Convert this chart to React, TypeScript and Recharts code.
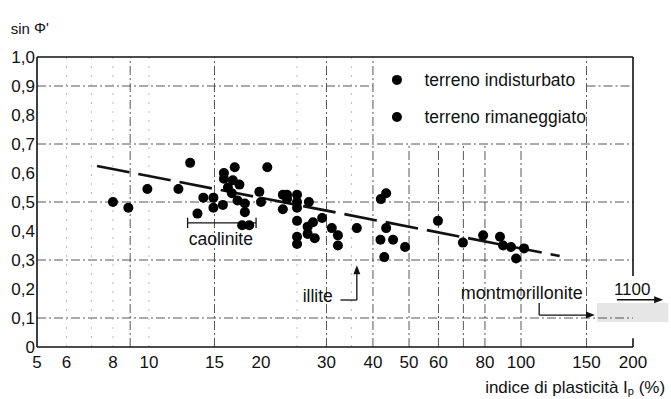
import {
  ScatterChart,
  Scatter,
  XAxis,
  YAxis,
  ReferenceLine,
  ReferenceDot,
  ReferenceArea,
} from 'recharts';

const FONT = '"Liberation Sans", Arial, Helvetica, sans-serif';
const INK = '#111';

// indice di plasticità Ip (%)
const ip = [
  8.0, 8.8, 9.9, 12.0, 12.9, 13.5, 14.0, 14.9, 14.9, 15.8,
  15.9, 15.9, 16.3, 16.7, 16.8, 17.0, 17.3, 17.5, 18.1, 18.1,
  17.8, 18.6, 19.8, 20.0, 20.8, 22.9, 23.5, 25.0, 23.5, 22.9,
  25.0, 25.0, 26.9, 25.0, 25.0, 25.0, 26.7, 27.6, 29.2, 26.7,
  27.9, 31.0, 32.2, 32.2, 36.2, 42.0, 43.4, 43.4, 41.9, 45.3,
  48.8, 42.9, 59.8, 69.8, 79.1, 87.8, 89.5, 94.0, 97.0, 101.9,
];

// sin phi'
const sinPhi = [
  0.5, 0.48, 0.545, 0.545, 0.635, 0.46, 0.515, 0.515, 0.48, 0.49,
  0.6, 0.58, 0.55, 0.53, 0.575, 0.62, 0.505, 0.56, 0.495, 0.465,
  0.42, 0.42, 0.535, 0.5, 0.62, 0.525, 0.525, 0.525, 0.51, 0.475,
  0.5, 0.48, 0.5, 0.435, 0.38, 0.355, 0.415, 0.43, 0.445, 0.39,
  0.375, 0.41, 0.385, 0.35, 0.41, 0.51, 0.53, 0.41, 0.37, 0.37,
  0.345, 0.31, 0.435, 0.36, 0.385, 0.38, 0.35, 0.345, 0.305, 0.34,
];

// dashed trend line end points
const trendIp = [7.25, 127];
const trendSin = [0.624, 0.314];

const xTicks = [5, 6, 8, 10, 15, 20, 30, 40, 50, 60, 80, 100, 150, 200];
const yTicks = [0, 0.1, 0.2, 0.3, 0.4, 0.5, 0.6, 0.7, 0.8, 0.9, 1.0];

const gridRows = [0.1, 0.3, 0.5, 0.7];
const gridColsFull = [8.9, 15, 30, 40, 150];
const gridColsLow = [50, 60, 70, 80, 100];
const gridColsFaint = [6, 7, 8, 10, 25, 35];

const points = ip.map((x, i) => ({ x, y: sinPhi[i] }));
const trend = trendIp.map((x, i) => ({ x, y: trendSin[i] }));

const majorGrid = { stroke: '#444', strokeWidth: 0.9, strokeDasharray: '9 3 2 3' };
const faintGrid = { stroke: '#aaa', strokeWidth: 0.8, strokeDasharray: '2 7' };

const fmtY = (v: number) => (v === 0 ? '0' : v.toFixed(1).replace('.', ','));

const textShape =
  (content: any, anchor: string, size = 17) =>
  (p: any) => (
    <text
      x={p.cx}
      y={p.cy}
      textAnchor={anchor}
      dominantBaseline="central"
      fontFamily={FONT}
      fontSize={size}
      fill={INK}
    >
      {content}
    </text>
  );

const arrowShape = (dir: 'up' | 'right') => (p: any) => {
  const { cx, cy } = p;
  const pts =
    dir === 'up'
      ? `${cx},${cy} ${cx - 3.5},${cy + 9} ${cx + 3.5},${cy + 9}`
      : `${cx},${cy} ${cx - 9},${cy - 3.5} ${cx - 9},${cy + 3.5}`;
  return <polygon points={pts} fill={INK} />;
};

const seg = (a: [number, number], b: [number, number], key: string, style: any = { stroke: INK, strokeWidth: 1.3 }) => (
  <ReferenceLine
    key={key}
    segment={[
      { x: a[0], y: a[1] },
      { x: b[0], y: b[1] },
    ]}
    {...style}
    ifOverflow="visible"
  />
);

const label = (key: string, x: number, y: number, content: any, anchor = 'middle', size = 17) => (
  <ReferenceDot
    key={key}
    x={x}
    y={y}
    r={1}
    ifOverflow="visible"
    shape={textShape(content, anchor, size)}
  />
);

const frame = { stroke: INK, strokeWidth: 1.6 };

export default function App() {
  return (
    <div style={{ position: 'absolute', left: 0, top: 0, width: 671, height: 399, background: '#fff' }}>
      <ScatterChart width={671} height={399} margin={{ top: 57, right: 38, bottom: 0, left: 0 }}>
        <XAxis
          type="number"
          dataKey="x"
          scale="log"
          domain={[5, 200]}
          ticks={xTicks}
          interval={0}
          allowDataOverflow
          axisLine={frame}
          tickLine={false}
          tickSize={6}
          tickMargin={3}
          height={52}
          tick={{ fill: INK, fontSize: 17, fontFamily: FONT }}
        />
        <YAxis
          type="number"
          dataKey="y"
          domain={[0, 1]}
          ticks={yTicks}
          interval={0}
          tickFormatter={fmtY}
          axisLine={frame}
          tickLine={false}
          tickSize={0}
          tickMargin={2}
          width={37}
          tick={{ fill: INK, fontSize: 17, fontFamily: FONT }}
        />

        {/* grid */}
        {gridRows.map((v) => (
          <ReferenceLine key={'r' + v} y={v} {...majorGrid} />
        ))}
        {seg([5, 0.9], [40, 0.9], 'r09a', majorGrid)}
        {seg([150, 0.9], [200, 0.9], 'r09b', majorGrid)}
        {gridColsFull.map((v) => (
          <ReferenceLine key={'c' + v} x={v} {...majorGrid} />
        ))}
        {gridColsLow.map((v) => seg([v, 0], [v, 0.7], 'l' + v, majorGrid))}
        {gridColsFaint.map((v) => (
          <ReferenceLine key={'f' + v} x={v} {...faintGrid} />
        ))}

        {/* frame */}
        <ReferenceLine y={1} {...frame} />
        {seg([200, 1], [200, 0.245], 'fr1', frame)}
        {seg([200, 0.03], [200, 0], 'fr2', frame)}

        {/* legend */}
        <ReferenceDot x={46.4} y={0.921} r={5} fill="#000" stroke="none" />
        <ReferenceDot x={46.4} y={0.793} r={5} fill="#000" stroke="none" />
        {label('lg1', 55, 0.921, 'terreno indisturbato', 'start', 17.5)}
        {label('lg2', 55, 0.793, 'terreno rimaneggiato', 'start', 17.5)}

        {/* caolinite */}
        {seg([12.7, 0.428], [19.4, 0.428], 'k1')}
        {seg([12.7, 0.446], [12.7, 0.41], 'k2')}
        {seg([19.4, 0.446], [19.4, 0.41], 'k3')}
        {label('kt', 15.6, 0.372, 'caolinite', 'middle', 17.5)}

        {/* illite */}
        {seg([32.7, 0.162], [36.2, 0.162], 'i1')}
        {seg([36.2, 0.162], [36.2, 0.255], 'i2')}
        <ReferenceDot x={36.2} y={0.282} r={1} ifOverflow="visible" shape={arrowShape('up')} />
        {label('it', 31.2, 0.176, 'illite', 'end', 17.5)}

        {/* montmorillonite */}
        {seg([111.9, 0.152], [111.9, 0.11], 'm1')}
        {seg([111.9, 0.11], [152, 0.11], 'm2')}
        <ReferenceDot x={158} y={0.11} r={1} ifOverflow="visible" shape={arrowShape('right')} />
        {label('mt', 100.5, 0.186, 'montmorillonite', 'middle', 18)}

        {/* 1100 */}
        <ReferenceArea
          x1={160}
          x2={249}
          y1={0.086}
          y2={0.152}
          fill="#e6e6e6"
          fillOpacity={1}
          stroke="none"
          ifOverflow="visible"
        />
        {seg([181, 0.163], [234, 0.163], 'u1')}
        <ReferenceDot x={241} y={0.163} r={1} ifOverflow="visible" shape={arrowShape('right')} />
        {label('ut', 199, 0.198, '1100', 'middle', 17)}

        {/* axis titles */}
        {label(
          'yt',
          4.25,
          1.097,
          <>
            sin <tspan dy={-2}>Φ'</tspan>
          </>,
          'start',
          15,
        )}
        {label(
          'xt',
          244,
          -0.138,
          <>
            indice di plasticità I<tspan dy={4} fontSize={11}>p</tspan>
            <tspan dy={-4}> (%)</tspan>
          </>,
          'end',
          17,
        )}

        <Scatter
          data={trend}
          isAnimationActive={false}
          line={{ stroke: INK, strokeWidth: 2.6, strokeDasharray: '33 9' }}
          shape={() => <g />}
        />
        <Scatter
          data={points}
          isAnimationActive={false}
          shape={(p: any) => <circle cx={p.cx} cy={p.cy} r={5} fill="#000" />}
        />
      </ScatterChart>
    </div>
  );
}
